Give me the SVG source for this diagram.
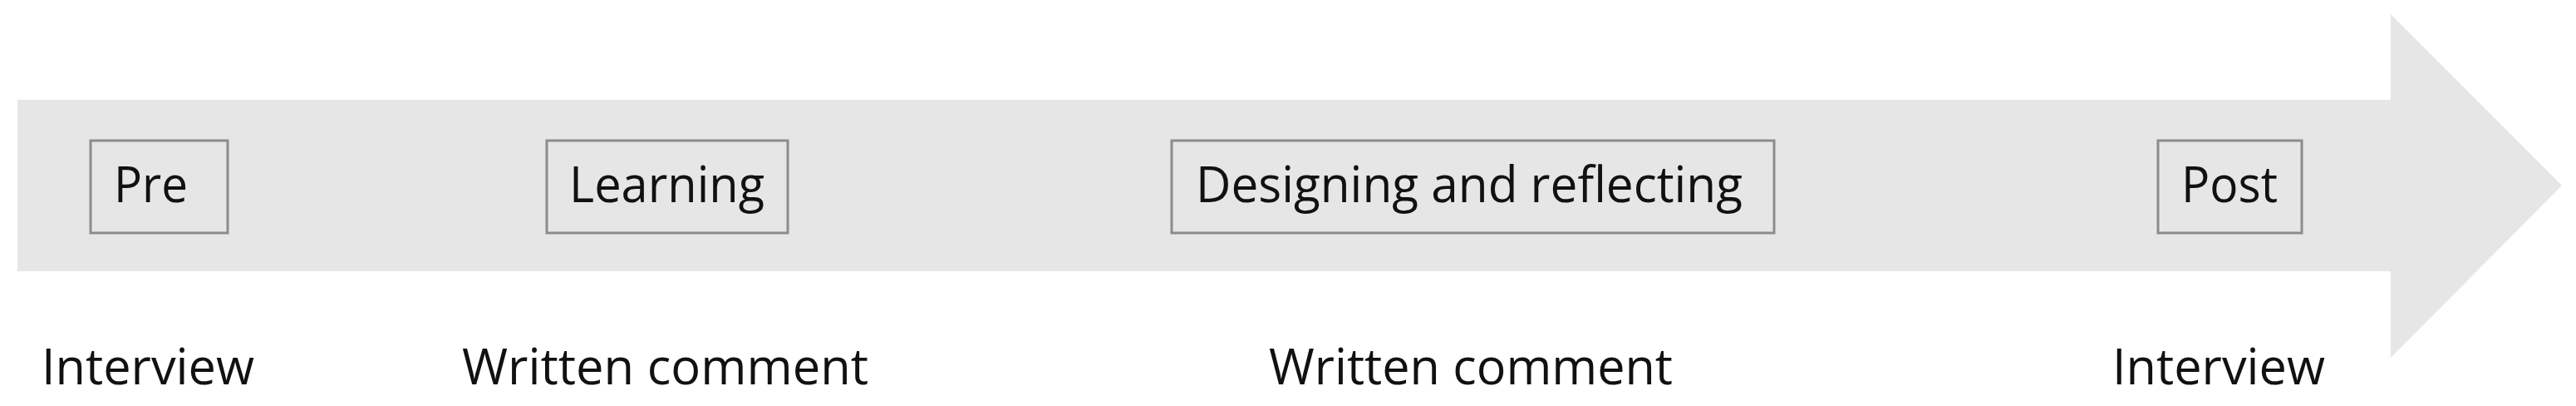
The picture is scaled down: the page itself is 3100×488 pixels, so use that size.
<svg xmlns="http://www.w3.org/2000/svg" width="3100" height="488" viewBox="0 0 3100 488">
<style>
.box{fill:none;stroke:#8c8c8c;stroke-width:3}
.t{font-family:"Open Sans","Noto Sans","Liberation Sans",sans-serif;font-size:60px;fill:#111}
</style>
<rect x="0" y="0" width="3100" height="488" fill="#ffffff"/>
<g id="timeline-arrow">
<polygon points="21,120 2877,120 2877,17 3083,223 2877,430 2877,326 21,326" fill="#e6e6e6"/>
</g>
<g id="node-pre">
<rect class="box" x="109" y="169" width="165" height="111"/>
<text class="t" x="137" y="243" textLength="89" lengthAdjust="spacingAndGlyphs">Pre</text>
</g>
<g id="node-learning">
<rect class="box" x="658" y="169" width="290" height="111"/>
<text class="t" x="685" y="243" textLength="235" lengthAdjust="spacingAndGlyphs">Learning</text>
</g>
<g id="node-designing">
<rect class="box" x="1410" y="169" width="725" height="111"/>
<text class="t" x="1439" y="243" textLength="658" lengthAdjust="spacingAndGlyphs">Designing and reflecting</text>
</g>
<g id="node-post">
<rect class="box" x="2597" y="169" width="173" height="111"/>
<text class="t" x="2625" y="243" textLength="116" lengthAdjust="spacingAndGlyphs">Post</text>
</g>
<g id="labels">
<text class="t" x="50" y="462" textLength="256" lengthAdjust="spacingAndGlyphs">Interview</text>
<text class="t" x="556" y="462" textLength="489" lengthAdjust="spacingAndGlyphs">Written comment</text>
<text class="t" x="1527" y="462" textLength="486" lengthAdjust="spacingAndGlyphs">Written comment</text>
<text class="t" x="2542" y="462" textLength="256" lengthAdjust="spacingAndGlyphs">Interview</text>
</g>
<g id="connectors"/>
</svg>
